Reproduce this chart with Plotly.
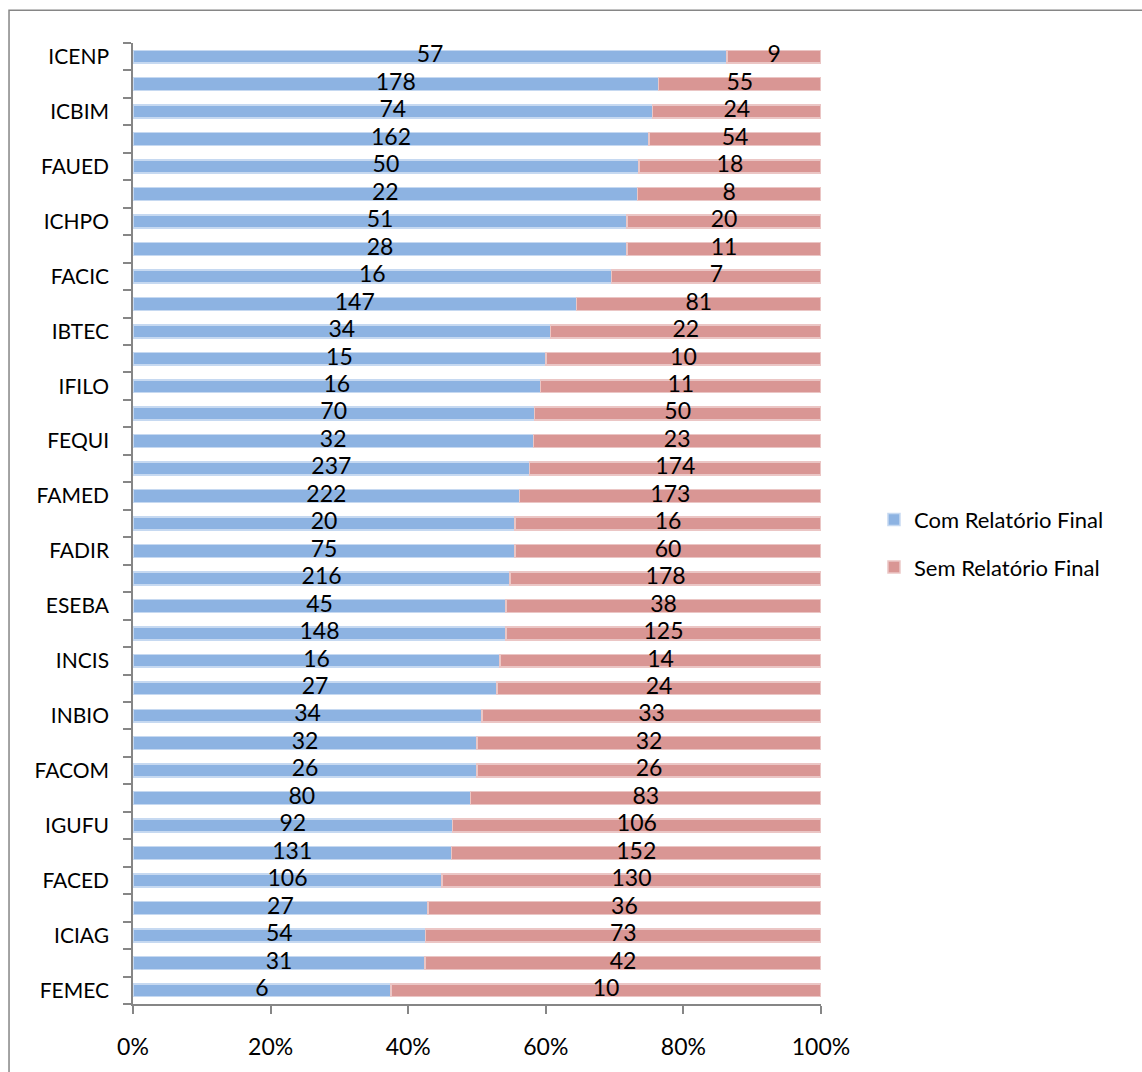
import plotly.graph_objects as go

# Unidades acadêmicas (rótulos exibidos em linhas alternadas; as demais ficam sem rótulo)
unidades = [
    "ICENP", "", "ICBIM", "", "FAUED", "", "ICHPO", "", "FACIC", "",
    "IBTEC", "", "IFILO", "", "FEQUI", "", "FAMED", "", "FADIR", "",
    "ESEBA", "", "INCIS", "", "INBIO", "", "FACOM", "", "IGUFU", "",
    "FACED", "", "ICIAG", "", "FEMEC",
]
com_relatorio = [
    57, 178, 74, 162, 50, 22, 51, 28, 16, 147,
    34, 15, 16, 70, 32, 237, 222, 20, 75, 216,
    45, 148, 16, 27, 34, 32, 26, 80, 92, 131,
    106, 27, 54, 31, 6,
]
sem_relatorio = [
    9, 55, 24, 54, 18, 8, 20, 11, 7, 81,
    22, 10, 11, 50, 23, 174, 173, 16, 60, 178,
    38, 125, 14, 24, 33, 32, 26, 83, 106, 152,
    130, 36, 73, 42, 10,
]
x_ticks = [0, 20, 40, 60, 80, 100]

pos = list(range(len(unidades)))
totais = [c + s for c, s in zip(com_relatorio, sem_relatorio)]
pct_com = [100 * c / t for c, t in zip(com_relatorio, totais)]
pct_sem = [100 * s / t for s, t in zip(sem_relatorio, totais)]

FONT = "Lato, Calibri, Carlito, sans-serif"
AXIS = "#868686"

fig = go.Figure()
fig.add_trace(go.Bar(
    y=pos, x=pct_com, orientation="h", name="Com Relatório Final",
    marker=dict(color="#8DB3E2", line=dict(color="#C6D9F1", width=1.5)),
    legendgroup="com", hoverinfo="skip",
))
fig.add_trace(go.Bar(
    y=pos, x=pct_sem, orientation="h", name="Sem Relatório Final",
    marker=dict(color="#D99694", line=dict(color="#EBC6C5", width=1.5)),
    legendgroup="sem", hoverinfo="skip",
))

# Rótulos de valor centralizados em cada segmento
fig.add_trace(go.Scatter(
    y=pos, x=[p / 2 for p in pct_com], mode="text",
    text=[str(v) for v in com_relatorio], textposition="middle center",
    textfont=dict(family=FONT, size=23, color="black"),
    showlegend=False, hoverinfo="skip",
))
fig.add_trace(go.Scatter(
    y=pos, x=[pc + ps / 2 for pc, ps in zip(pct_com, pct_sem)], mode="text",
    text=[str(v) for v in sem_relatorio], textposition="middle center",
    textfont=dict(family=FONT, size=23, color="black"),
    showlegend=False, hoverinfo="skip",
))

lab_vals = [p for p, u in zip(pos, unidades) if u]
lab_text = [u for u in unidades if u]

fig.update_layout(
    barmode="stack",
    bargap=0.53,
    width=1142, height=1072,
    margin=dict(l=133, r=321, t=43, b=57),
    paper_bgcolor="white", plot_bgcolor="white",
    font=dict(family=FONT, size=21, color="black"),
    xaxis=dict(
        range=[0, 100], tickvals=x_ticks, ticktext=[f"{v}%" for v in x_ticks],
        showgrid=False, zeroline=False, showline=True, linecolor=AXIS, linewidth=1.5,
        ticks="outside", ticklen=8, tickcolor=AXIS, tickwidth=1.5,
        tickfont=dict(size=23, family=FONT), ticklabelstandoff=14,
    ),
    yaxis=dict(
        range=[len(unidades) - 0.5, -0.5], tickvals=lab_vals, ticktext=lab_text,
        showgrid=False, zeroline=False, showline=True, linecolor=AXIS, linewidth=1.5,
        ticks="", tickfont=dict(size=21, family=FONT), ticklabelstandoff=18,
        minor=dict(tick0=0.5, dtick=1, ticks="outside", ticklen=8,
                   tickcolor=AXIS, tickwidth=1.5, showgrid=False),
    ),
    legend=dict(
        x=1.077, y=0.479, xanchor="left", yanchor="middle",
        font=dict(size=22, family=FONT), traceorder="grouped",
        tracegroupgap=16, itemwidth=30, bgcolor="rgba(0,0,0,0)",
    ),
    shapes=[dict(
        type="rect", xref="paper", yref="paper",
        x0=-0.1802, x1=1.6, y0=-0.2, y1=1.034,
        line=dict(color=AXIS, width=1.5), fillcolor="rgba(0,0,0,0)", layer="below",
    )],
)

fig.write_html("out.html")
